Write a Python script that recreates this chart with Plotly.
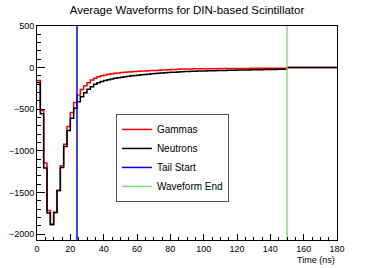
import plotly.graph_objects as go

bin_width = 2
bin_edges = [i * bin_width for i in range(91)]  # 0..180 ns

gammas = [
    -156, -516, -1148, -1716, -1880, -1740, -1476, -1180, -920, -708,
    -540, -420, -330, -262, -218, -181, -150, -128, -110, -98,
    -88, -80, -74, -69, -64, -59, -56, -53, -50, -47,
    -45, -42, -40, -38, -36, -34, -32, -30, -28, -26,
    -24, -22, -20, -18, -17, -16, -16, -15, -15, -14,
    -14, -13, -13, -13, -12, -12, -12, -11, -11, -11,
    -10, -10, -10, -10, -9, -9, -9, -9, -8, -8,
    -8, -8, -7, -7, -7,
    0, 0, 0, 0, 0, 0, 0, 0, 0, 0, 0, 0, 0, 0, 0,
]
neutrons = [
    -178, -556, -1208, -1748, -1888, -1740, -1476, -1200, -948, -756,
    -608, -488, -409, -349, -301, -261, -229, -201, -181, -166,
    -155, -145, -136, -128, -121, -115, -109, -104, -99, -95,
    -91, -87, -83, -79, -75, -71, -68, -65, -62, -59,
    -57, -55, -52, -50, -48, -46, -44, -43, -42, -41,
    -40, -39, -38, -37, -36, -35, -34, -33, -32, -31,
    -30, -29, -28, -28, -27, -26, -25, -25, -24, -23,
    -23, -22, -21, -21, -20,
    0, 0, 0, 0, 0, 0, 0, 0, 0, 0, 0, 0, 0, 0, 0,
]
tail_start = 24
waveform_end = 150
x_range = [0, 180]
y_range = [-2072, 500]

fig = go.Figure()
fig.add_trace(go.Scatter(x=bin_edges, y=gammas + [gammas[-1]], mode="lines",
                         line=dict(color="#ff0000", width=1.5, shape="hv"), name="Gammas"))
fig.add_trace(go.Scatter(x=bin_edges, y=neutrons + [neutrons[-1]], mode="lines",
                         line=dict(color="#000000", width=1.5, shape="hv"), name="Neutrons"))
fig.add_trace(go.Scatter(x=[tail_start, tail_start], y=y_range, mode="lines",
                         line=dict(color="#0000ff", width=1.5), name="Tail Start"))
fig.add_trace(go.Scatter(x=[waveform_end, waveform_end], y=y_range, mode="lines",
                         line=dict(color="#80e080", width=1.5), name="Waveform End"))

axis_font = dict(family="Liberation Sans, Arial, sans-serif", size=9, color="#000")
fig.update_layout(
    width=374, height=268,
    margin=dict(l=37, r=37, t=26, b=28),
    paper_bgcolor="white", plot_bgcolor="white",
    font=dict(family="Liberation Sans, Arial, sans-serif", color="#000"),
    title=dict(text="Average Waveforms for DIN-based Scintillator", x=0.5, xanchor="center",
               y=1 - 10 / 268, yanchor="middle", yref="container",
               font=dict(size=11.5, color="#000")),
    showlegend=True,
    legend=dict(x=0.263, y=0.589, xanchor="left", yanchor="top",
                bgcolor="white", bordercolor="#555", borderwidth=1,
                font=dict(size=10, color="#000"), tracegroupgap=0, itemwidth=30),
    xaxis=dict(range=x_range, dtick=20, tick0=0, ticks="inside", ticklen=6, tickcolor="#000",
               showline=True, linecolor="#000", linewidth=1, mirror=True, automargin=False,
               showgrid=False, zeroline=False, tickfont=axis_font, ticklabelstandoff=0,
               minor=dict(dtick=5, ticks="inside", ticklen=3, tickcolor="#000", showgrid=False)),
    yaxis=dict(range=y_range, tickvals=[-2000, -1500, -1000, -500, 0, 500], ticks="inside",
               ticklen=8, tickcolor="#000", automargin=False, ticklabelstandoff=0,
               showline=True, linecolor="#000", linewidth=1, mirror=True,
               showgrid=False, zeroline=False, tickfont=axis_font,
               minor=dict(dtick=100, ticks="inside", ticklen=4, tickcolor="#000", showgrid=False)),
    annotations=[dict(text="Time (ns)", x=1, xref="paper", xanchor="right",
                      y=-0.061, yref="paper", yanchor="top", showarrow=False,
                      font=dict(size=9, color="#000"))],
)
fig.write_html("out.html", config={"displayModeBar": False},
               post_script="document.body.style.margin='0';document.body.style.overflow='hidden';")
